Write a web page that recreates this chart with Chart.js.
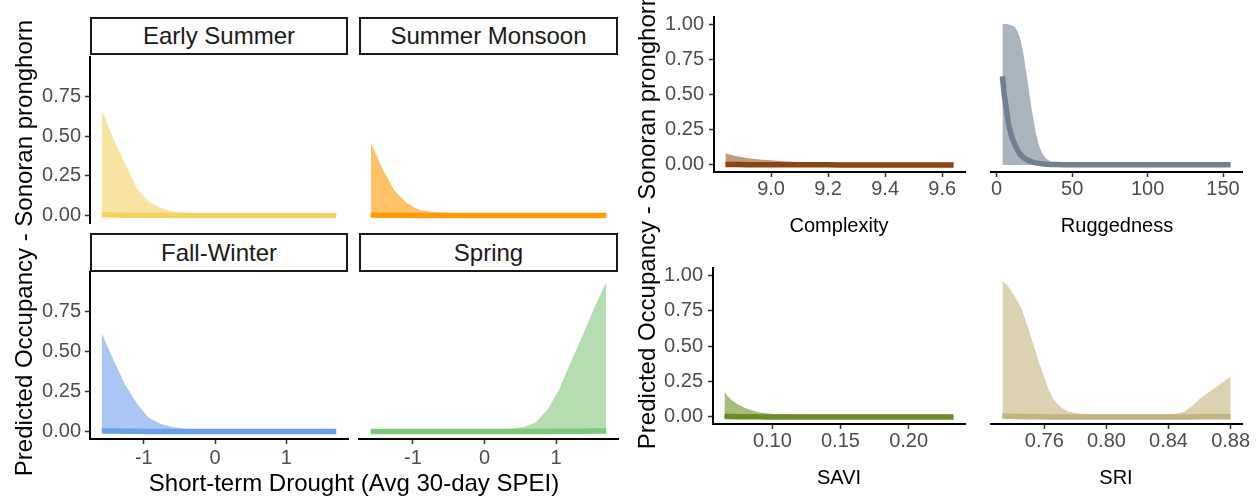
<!DOCTYPE html>
<html>
<head>
<meta charset="utf-8">
<script src="https://cdn.jsdelivr.net/npm/chart.js@4/dist/chart.umd.min.js"></script>
<style>
  html, body { margin: 0; padding: 0; background: #fff; }
  #wrap { position: relative; width: 1258px; height: 499px; overflow: hidden; background: #fff;
          font-family: "Liberation Sans", Arial, sans-serif; }
  #wrap canvas { position: absolute; }
  .strip { position: absolute; box-sizing: border-box; border: 2px solid #1a1a1a; background: #fff;
           color: #1a1a1a; font-size: 24px; line-height: 36px; height: 38px; text-align: center; white-space: nowrap; }
  .lab { position: absolute; color: #000; white-space: nowrap; text-align: center; }
</style>
</head>
<body>
<div id="wrap"></div>
<script>
// ---- Short-term drought (avg 30-day SPEI), seasonal occupancy ----
const speiDrought = [-1.59, -1.42, -1.26, -1.09, -0.93, -0.77, -0.60, -0.44, -0.27, -0.11, 0.06,
                     0.22, 0.38, 0.55, 0.71, 0.88, 1.04, 1.20, 1.37, 1.53, 1.70];

const earlySummerUpper = [0.665, 0.475, 0.325, 0.165, 0.088, 0.048, 0.025, 0.018, 0.016, 0.015, 0.015,
                          0.015, 0.015, 0.015, 0.015, 0.015, 0.015, 0.015, 0.015, 0.015, 0.015];
const earlySummerMean  = [0.004, 0.003, 0.002, 0.001, 0.001, 0.001, 0, 0, 0, 0, 0,
                          0, 0, 0, 0, 0, 0, 0, 0, 0, 0];

const summerMonsoonUpper = [0.46, 0.29, 0.155, 0.08, 0.038, 0.023, 0.018, 0.016, 0.015, 0.015, 0.015,
                            0.015, 0.015, 0.015, 0.015, 0.015, 0.015, 0.015, 0.015, 0.015, 0.015];
const summerMonsoonMean  = [0.003, 0.002, 0.001, 0.001, 0, 0, 0, 0, 0, 0, 0,
                            0, 0, 0, 0, 0, 0, 0, 0, 0, 0];

const fallWinterUpper = [0.615, 0.44, 0.29, 0.17, 0.085, 0.048, 0.027, 0.017, 0.014, 0.013, 0.013,
                         0.013, 0.013, 0.013, 0.013, 0.013, 0.013, 0.013, 0.013, 0.013, 0.013];
const fallWinterMean  = [0.003, 0.002, 0.001, 0.001, 0, 0, 0, 0, 0, 0, 0,
                         0, 0, 0, 0, 0, 0, 0, 0, 0, 0];

const springUpper = [0.013, 0.013, 0.013, 0.013, 0.013, 0.013, 0.013, 0.013, 0.013, 0.013, 0.013,
                     0.014, 0.016, 0.027, 0.056, 0.135, 0.26, 0.43, 0.60, 0.77, 0.935];
const springMean  = [0, 0, 0, 0, 0, 0, 0, 0, 0, 0, 0,
                     0, 0, 0, 0, 0, 0.001, 0.001, 0.001, 0.002, 0.002];

const speiTicks = [-1, 0, 1];
const speiTickLabels = ['-1', '0', '1'];
const facetYTicks = [0, 0.25, 0.5, 0.75];
const facetYTickLabels = ['0.00', '0.25', '0.50', '0.75'];

// ---- Habitat covariates ----
const complexityX = [8.84, 8.88, 8.92, 8.96, 9.00, 9.04, 9.08, 9.12, 9.16, 9.20, 9.24,
                     9.28, 9.32, 9.36, 9.40, 9.44, 9.48, 9.52, 9.56, 9.60, 9.64];
const complexityUpper = [0.082, 0.062, 0.048, 0.039, 0.033, 0.027, 0.023, 0.020, 0.018, 0.017, 0.016,
                         0.016, 0.015, 0.015, 0.015, 0.015, 0.015, 0.015, 0.015, 0.015, 0.015];
const complexityMean  = [0.004, 0.003, 0.002, 0.002, 0.001, 0.001, 0.001, 0.001, 0.001, 0.001, 0,
                         0, 0, 0, 0, 0, 0, 0, 0, 0, 0];
const complexityTicks = [9.0, 9.2, 9.4, 9.6];
const complexityTickLabels = ['9.0', '9.2', '9.4', '9.6'];

const ruggednessX = [3.8, 5, 6.5, 8, 10, 12, 14, 16, 18, 20, 22, 24, 26, 28, 30, 33, 36,
                     40, 45, 50, 60, 80, 100, 120, 140, 155];
const ruggednessUpper = [1.0, 1.0, 1.0, 0.996, 0.99, 0.98, 0.945, 0.88, 0.77, 0.63, 0.48, 0.34, 0.225,
                         0.14, 0.085, 0.042, 0.022, 0.012, 0.008, 0.006, 0.004, 0.003, 0.002, 0.002, 0.002, 0.002];
const ruggednessMean  = [0.63, 0.50, 0.39, 0.28, 0.20, 0.145, 0.10, 0.07, 0.05, 0.036, 0.027, 0.02, 0.015,
                         0.011, 0.008, 0.005, 0.004, 0.003, 0.002, 0.002, 0.001, 0.001, 0.001, 0.001, 0.001, 0.001];
const ruggednessTicks = [0, 50, 100, 150];
const ruggednessTickLabels = ['0', '50', '100', '150'];

const saviX = [0.0648, 0.067, 0.070, 0.074, 0.078, 0.082, 0.086, 0.090, 0.095, 0.100, 0.110, 0.120,
               0.130, 0.140, 0.150, 0.160, 0.170, 0.180, 0.190, 0.200, 0.210, 0.220, 0.233];
const saviUpper = [0.178, 0.150, 0.120, 0.092, 0.072, 0.055, 0.043, 0.033, 0.025, 0.020, 0.018, 0.017,
                   0.016, 0.016, 0.016, 0.016, 0.016, 0.016, 0.016, 0.016, 0.016, 0.016, 0.016];
const saviMean  = [0.004, 0.003, 0.003, 0.002, 0.002, 0.001, 0.001, 0.001, 0, 0, 0, 0,
                   0, 0, 0, 0, 0, 0, 0, 0, 0, 0, 0];
const saviTicks = [0.10, 0.15, 0.20];
const saviTickLabels = ['0.10', '0.15', '0.20'];

const sriX = [0.733, 0.736, 0.739, 0.742, 0.745, 0.748, 0.751, 0.754, 0.757, 0.760, 0.763, 0.766,
              0.769, 0.772, 0.776, 0.780, 0.785, 0.790, 0.800, 0.810, 0.820, 0.830, 0.840, 0.845,
              0.850, 0.855, 0.860, 0.865, 0.870, 0.875, 0.880];
const sriUpper = [0.955, 0.93, 0.885, 0.83, 0.77, 0.68, 0.58, 0.475, 0.37, 0.28, 0.185, 0.125,
                  0.085, 0.058, 0.037, 0.027, 0.021, 0.019, 0.018, 0.018, 0.018, 0.018, 0.019, 0.022,
                  0.037, 0.075, 0.126, 0.166, 0.206, 0.245, 0.285];
const sriMean  = [0.006, 0.005, 0.004, 0.003, 0.003, 0.002, 0.002, 0.001, 0.001, 0.001, 0, 0,
                  0, 0, 0, 0, 0, 0, 0, 0, 0, 0, 0, 0,
                  0, 0, 0.001, 0.001, 0.001, 0.002, 0.002];
const sriTicks = [0.76, 0.80, 0.84, 0.88];
const sriTickLabels = ['0.76', '0.80', '0.84', '0.88'];

const habitatYTicks = [0, 0.25, 0.5, 0.75, 1];
const habitatYTickLabels = ['0.00', '0.25', '0.50', '0.75', '1.00'];

// ---- drawing helpers ----
const FONT = '"Liberation Sans", Arial, sans-serif';
const wrap = document.getElementById('wrap');

// ggplot-style 5% expansion of a data range
function expand(values) {
  const lo = Math.min(...values), hi = Math.max(...values);
  const d = (hi - lo) * 0.05;
  return [lo - d, hi + d];
}

function panel(o) {
  const c = document.createElement('canvas');
  c.width = o.box.w; c.height = o.box.h;
  c.style.left = o.box.x + 'px'; c.style.top = o.box.y + 'px';
  wrap.appendChild(c);
  const axW = o.area.l - o.box.x;
  const axH = o.box.y + o.box.h - o.area.b;
  const padTop = o.area.t - o.box.y;
  const padRight = o.box.x + o.box.w - o.area.r;
  const xr = expand(o.x);

  new Chart(c, {
    type: 'line',
    data: {
      datasets: [
        { data: o.x.map((v, i) => ({ x: v, y: o.mean[i] })), borderColor: o.line, borderWidth: 5.5,
          borderCapStyle: 'butt', pointRadius: 0, fill: false, tension: 0 },
        { data: o.x.map((v, i) => ({ x: v, y: o.upper[i] })), borderColor: 'rgba(0,0,0,0)', borderWidth: 0,
          backgroundColor: o.fill, pointRadius: 0, fill: 'origin', tension: 0 }
      ]
    },
    options: {
      responsive: false, animation: false, devicePixelRatio: 1, events: [],
      layout: { padding: { left: 0, bottom: 0, top: padTop, right: padRight } },
      plugins: { legend: { display: false }, tooltip: { enabled: false } },
      scales: {
        x: {
          type: 'linear', position: 'bottom', min: xr[0], max: xr[1],
          afterBuildTicks: s => { s.ticks = o.xTicks.map(v => ({ value: v })); },
          afterFit: s => { s.height = axH; s.paddingLeft = 0; s.paddingRight = 0; },
          border: { display: o.showX, color: '#000', width: 2 },
          grid: { display: o.showX, drawOnChartArea: false, drawTicks: true, tickLength: 5,
                  tickColor: '#333', tickWidth: 1.5 },
          ticks: { display: o.showX, autoSkip: false, maxRotation: 0, minRotation: 0, padding: o.xPad,
                   color: '#4d4d4d', font: { family: FONT, size: 20 },
                   callback: (v, i) => o.xLabels[i] }
        },
        y: {
          type: 'linear', position: 'left', min: o.yRange[0], max: o.yRange[1],
          afterBuildTicks: s => { s.ticks = o.yTicks.map(v => ({ value: v })); },
          afterFit: s => { s.width = axW; s.paddingTop = 0; s.paddingBottom = 0; },
          border: { display: o.showY, color: '#000', width: 2 },
          grid: { display: o.showY, drawOnChartArea: false, drawTicks: true, tickLength: 5,
                  tickColor: '#333', tickWidth: 1.5 },
          ticks: { display: o.showY, autoSkip: false, padding: o.yPad,
                   color: '#4d4d4d', font: { family: FONT, size: 20 },
                   callback: (v, i) => o.yLabels[i] }
        }
      }
    }
  });
}

function strip(text, x, y, w, h) {
  const d = document.createElement('div');
  d.className = 'strip';
  d.textContent = text;
  Object.assign(d.style, { left: x + 'px', top: y + 'px', width: w + 'px', height: h + 'px', lineHeight: (h - 4) + 'px' });
  wrap.appendChild(d);
}

function label(text, cx, cy, size, rotate) {
  const d = document.createElement('div');
  d.className = 'lab';
  d.textContent = text;
  const w = 640;
  Object.assign(d.style, {
    left: (cx - w / 2) + 'px', top: (cy - size / 2) + 'px', width: w + 'px',
    fontSize: size + 'px', lineHeight: size + 'px',
    transform: rotate ? 'rotate(-90deg)' : 'none'
  });
  wrap.appendChild(d);
}

// ---- seasonal facets ----
const facetY = [-0.0475, 0.9975];
const facetCommon = { x: speiDrought, xTicks: speiTicks, xLabels: speiTickLabels, yRange: facetY,
                      yTicks: facetYTicks, yLabels: facetYTickLabels, xPad: 2, yPad: 4 };

panel(Object.assign({}, facetCommon, {
  box: { x: 0, y: 45, w: 360, h: 185 }, area: { l: 90, t: 57, r: 348, b: 223 },
  upper: earlySummerUpper, mean: earlySummerMean, fill: '#f8e4a0', line: '#f4d162',
  showX: false, showY: true }));
panel(Object.assign({}, facetCommon, {
  box: { x: 355, y: 45, w: 270, h: 185 }, area: { l: 359, t: 57, r: 618, b: 223 },
  upper: summerMonsoonUpper, mean: summerMonsoonMean, fill: '#ffc266', line: '#ff9a0a',
  showX: false, showY: false }));
panel(Object.assign({}, facetCommon, {
  box: { x: 0, y: 262, w: 360, h: 210 }, area: { l: 90, t: 272, r: 348, b: 439 },
  upper: fallWinterUpper, mean: fallWinterMean, fill: '#a9c7f2', line: '#6d9eeb',
  showX: true, showY: true }));
panel(Object.assign({}, facetCommon, {
  box: { x: 355, y: 262, w: 270, h: 210 }, area: { l: 359, t: 272, r: 618, b: 439 },
  upper: springUpper, mean: springMean, fill: '#b6ddb2', line: '#7ec678',
  showX: true, showY: false }));

strip('Early Summer', 90, 17, 258, 38);
strip('Summer Monsoon', 359, 17, 259, 38);
strip('Fall-Winter', 90, 233, 258, 39);
strip('Spring', 359, 233, 259, 39);

label('Short-term Drought (Avg 30-day SPEI)', 354, 483, 24, false);
label('Predicted Occupancy - Sonoran pronghorn', 23.5, 248, 24, true);

// ---- habitat panels ----
const habitatY = [-0.05, 1.05];
const habitatCommon = { yRange: habitatY, yTicks: habitatYTicks, yLabels: habitatYTickLabels, xPad: 0, yPad: 5, showX: true };

panel(Object.assign({}, habitatCommon, {
  box: { x: 655, y: 5, w: 320, h: 200 }, area: { l: 714, t: 17, r: 965, b: 172 },
  x: complexityX, upper: complexityUpper, mean: complexityMean, xTicks: complexityTicks,
  xLabels: complexityTickLabels, fill: '#c29a7e', line: '#8b4513', showY: true }));
panel(Object.assign({}, habitatCommon, {
  box: { x: 976, y: 5, w: 282, h: 200 }, area: { l: 991, t: 17, r: 1242, b: 172 },
  x: ruggednessX, upper: ruggednessUpper, mean: ruggednessMean, xTicks: ruggednessTicks,
  xLabels: ruggednessTickLabels, fill: '#a9b4be', line: '#708090', showY: false }));
panel(Object.assign({}, habitatCommon, {
  box: { x: 655, y: 256, w: 320, h: 243 }, area: { l: 713, t: 268, r: 965, b: 424 },
  x: saviX, upper: saviUpper, mean: saviMean, xTicks: saviTicks,
  xLabels: saviTickLabels, fill: '#a8bc7c', line: '#6b8e23', showY: true }));
panel(Object.assign({}, habitatCommon, {
  box: { x: 976, y: 256, w: 282, h: 243 }, area: { l: 991, t: 268, r: 1242, b: 424 },
  x: sriX, upper: sriUpper, mean: sriMean, xTicks: sriTicks,
  xLabels: sriTickLabels, fill: '#dcd1b0', line: '#c4b283', showY: false }));

label('Complexity', 839, 225, 20, false);
label('Ruggedness', 1117, 225, 20, false);
label('SAVI', 839, 477, 20, false);
label('SRI', 1116, 477, 20, false);
label('Predicted Occupancy - Sonoran pronghorn', 647, 221, 24, true);
</script>
</body>
</html>
